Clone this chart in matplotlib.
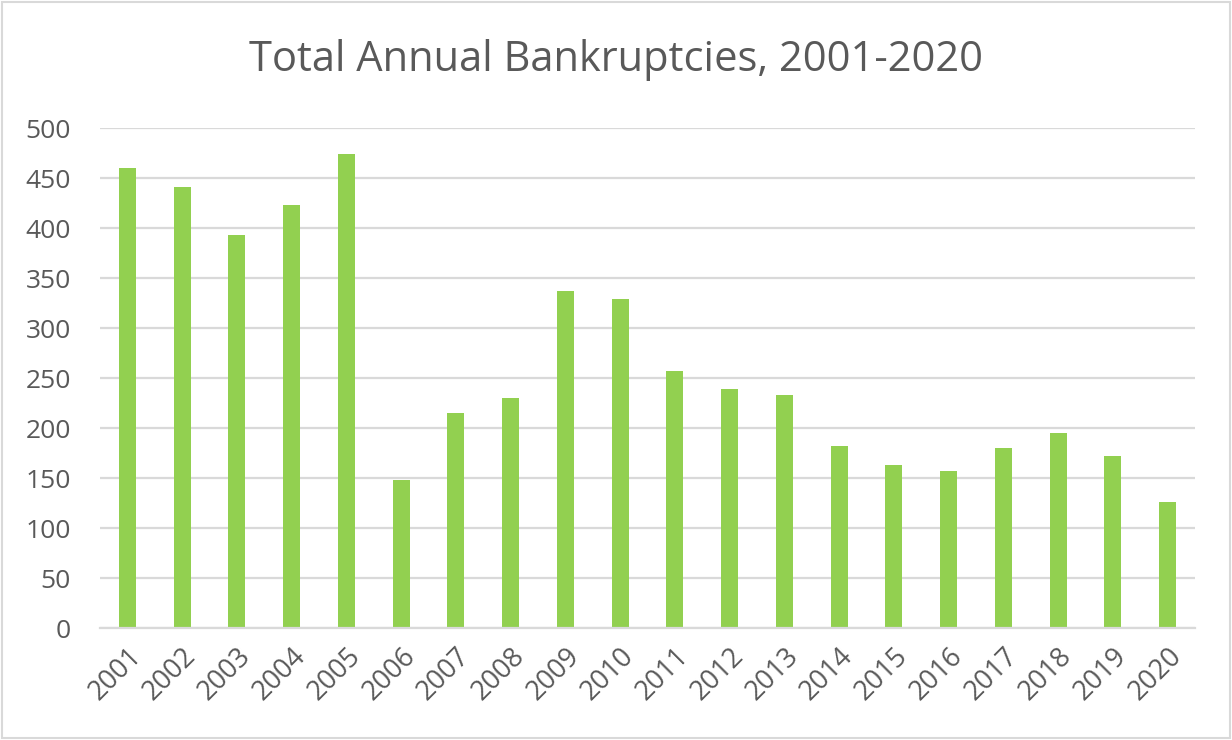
import matplotlib
matplotlib.use("Agg")
import matplotlib.pyplot as plt
from matplotlib.patches import Rectangle

years = [str(y) for y in range(2001, 2021)]
bankruptcies = [460, 441, 393, 423, 474, 148, 215, 230, 337, 329,
                257, 239, 233, 182, 163, 157, 180, 195, 172, 126]
y_ticks = [0, 50, 100, 150, 200, 250, 300, 350, 400, 450, 500]
title = "Total Annual Bankruptcies, 2001-2020"

BAR = "#92D050"
GRID = "#D9D9D9"
TEXT = "#595959"

plt.rcParams["font.family"] = ["Open Sans", "DejaVu Sans"]

fig = plt.figure(figsize=(12.32, 7.4), dpi=100)
ax = fig.add_axes([100 / 1232, 1 - 628 / 740, 1095 / 1232, 500 / 740])

x = list(range(len(years)))
ax.bar(x, bankruptcies, width=0.31, color=BAR, zorder=3)

ax.set_xlim(-0.5, len(years) - 0.5)
ax.set_ylim(0, 500)
ax.set_yticks(y_ticks)
ax.set_yticklabels([str(v) for v in y_ticks], fontsize=19, color=TEXT)
ax.set_xticks(x)
ax.set_xticklabels(years, fontsize=19.5, color=TEXT, rotation=45,
                   ha="right", va="top", rotation_mode="anchor")
ax.tick_params(axis="both", length=0)
ax.tick_params(axis="y", pad=21)
ax.tick_params(axis="x", pad=10)

ax.yaxis.grid(True, color=GRID, linewidth=1.6, zorder=0)
for side in ("top", "right", "left"):
    ax.spines[side].set_visible(False)
ax.spines["bottom"].set_color(GRID)
ax.spines["bottom"].set_linewidth(1.6)
ax.spines["bottom"].set_zorder(4)

fig.text(0.5, 1 - 60 / 740, title, ha="center", va="center",
         fontsize=30, color=TEXT)

fig.patches.append(Rectangle((0.002, 0.003), 0.996, 0.994,
                             transform=fig.transFigure, fill=False,
                             edgecolor=GRID, linewidth=1.5))

fig.savefig("out.png", dpi=100, facecolor="white")
